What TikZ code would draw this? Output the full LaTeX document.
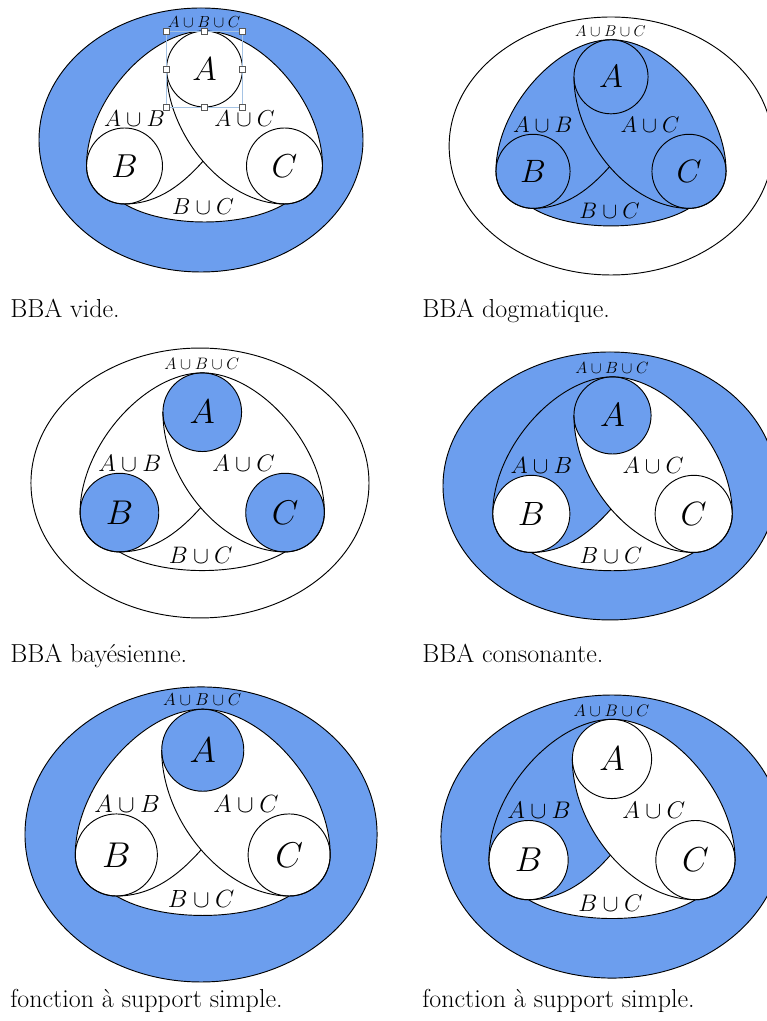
\documentclass[tikz,border=0pt]{standalone}
\usepackage{amsmath}
\usepackage{amssymb}
\usepackage{tikz}
\usetikzlibrary{positioning,backgrounds}
\definecolor{massblue}{RGB}{108,158,238}
\definecolor{handleblue}{RGB}{165,195,228}
\tikzset{outline/.style={draw=black, line width=0.7pt},
    focal/.style={circle, draw, line width=0.7pt, inner sep=0pt, outer sep=0pt,
        minimum size=57pt, font=\fontsize{28}{30}\selectfont},
    setlabel/.style={inner sep=0pt, font=\fontsize{16.5}{18}\selectfont},
    toplabel/.style={inner sep=0pt, font=\fontsize{12}{14}\selectfont},
    caption/.style={anchor=base west, inner sep=0pt, font=\fontsize{19.5}{22}\selectfont},
    handle/.style={draw=black!65, fill=white, line width=0.4pt, minimum size=4.5pt, inner sep=0pt}
}
% outline of A u B u C, and the part A u B of it
\newcommand{\innershape}[1]{(#1A.north) .. controls +(-55,0) and +(0,65) .. (#1B.west)
    arc[start angle=180, end angle=270, radius=38]
    .. controls +(40,-24) and +(-40,-24) .. (#1C.south)
    arc[start angle=270, end angle=360, radius=38]
    .. controls +(0,65) and +(55,0) .. (#1A.north) -- cycle}
\newcommand{\lensab}[1]{(#1A.north) .. controls +(-55,0) and +(0,65) .. (#1B.west)
    arc[start angle=180, end angle=270, radius=38]
    .. controls +(35,0) and +(-18.5,-20.75) .. (#1x)
    .. controls +(-22,25.5) and +(0,-33) .. (#1A.west)
    arc[start angle=180, end angle=90, radius=38] -- cycle}
% #1 name, #2 ring, #3 core, #4 A, #5 B, #6 C, #7 A u B, #8 frame
\newcommand{\bbapanel}[8]{
    \node[focal, fill=#4] (#1A) at (0,71) {$A$};
    \node[focal, fill=#5] (#1B) at (-80,-26) {$B$};
    \node[focal, fill=#6] (#1C) at (80,-26) {$C$};
    \coordinate (#1x) at (-1.5,-21.25);
    \begin{scope}[on background layer]
        \fill[#2, even odd rule] #8 \innershape{#1};
        \fill[#3] \innershape{#1};
        \fill[#7] \lensab{#1};
    \end{scope}
    \draw[outline] #8;
    \draw[outline] \innershape{#1};
    \draw[outline] (#1A.west) .. controls +(0,-66) and +(-60,0) .. (#1C.south);
    \draw[outline] (#1B.south) .. controls +(35,0) and +(-18.5,-20.75) .. (#1x);
    \node[setlabel] (#1ab) at (-70,21.5) {$A\cup B$};
    \node[setlabel] (#1ac) at (40,21.5) {$A\cup C$};
    \node[setlabel] (#1bc) at (-1.5,-67) {$B\cup C$};
    \node[toplabel] (#1abc) at (-0.5,117.5) {$A\cup B\cup C$};
}

\begin{document}
\begin{tikzpicture}[x=0.75pt, y=0.75pt]
    \useasboundingbox (0,0) rectangle (767,1021);
    % vide
    \begin{scope}[shift={(204.5,881)}, scale=1, transform shape]
        \bbapanel{p1}{massblue}{white}{white}{white}{white}{white}{(-3.5,0) ellipse [x radius=162, y radius=132]}
        \draw[handleblue, line width=0.5pt] (-38,109) rectangle (38,33);
        \foreach \hx/\hy [count=\i] in {-38/109, 0/109, 38/109, -38/71, 38/71, -38/33, 0/33, 38/33}
            \node[handle] (hdl\i) at (\hx,\hy) {};
    \end{scope}
    % dogmatique
    \begin{scope}[shift={(611,875)}, scale=0.975, transform shape]
        \bbapanel{p2}{white}{massblue}{massblue}{massblue}{massblue}{massblue}{(0,0) ellipse [x radius=166, y radius=132.3]}
    \end{scope}
    % bayesienne
    \begin{scope}[shift={(202.25,535.3)}, scale=1.035, transform shape]
        \bbapanel{p3}{white}{white}{massblue}{massblue}{massblue}{white}{(-2.2,2.6) ellipse [x radius=163.3, y radius=130.4]}
    \end{scope}
    % consonante
    \begin{scope}[shift={(612.5,533.5)}, scale=1.015, transform shape]
        \bbapanel{p4}{massblue}{white}{massblue}{white}{white}{massblue}{(-2.5,1.5) ellipse [x radius=164.5, y radius=132]}
    \end{scope}
    % support simple
    \begin{scope}[shift={(202.75,194.1)}, scale=1.08, transform shape]
        \bbapanel{p5}{massblue}{white}{massblue}{white}{white}{white}{(-1.6,-7) ellipse [x radius=163, y radius=136.6]}
    \end{scope}
    \begin{scope}[shift={(612,188)}, scale=1.043, transform shape]
        \bbapanel{p6}{massblue}{white}{white}{white}{white}{massblue}{(0,-3.4) ellipse [x radius=164, y radius=135.7]}
    \end{scope}
    \node[caption] (cap1) at (10,703) {BBA vide.};
    \node[caption] (cap2) at (422,703) {BBA dogmatique.};
    \node[caption] (cap3) at (10,358) {BBA bayésienne.};
    \node[caption] (cap4) at (422,358) {BBA consonante.};
    \node[caption] (cap5) at (10,13) {fonction à support simple.};
    \node[caption] (cap6) at (422,13) {fonction à support simple.};
\end{tikzpicture}
\end{document}
